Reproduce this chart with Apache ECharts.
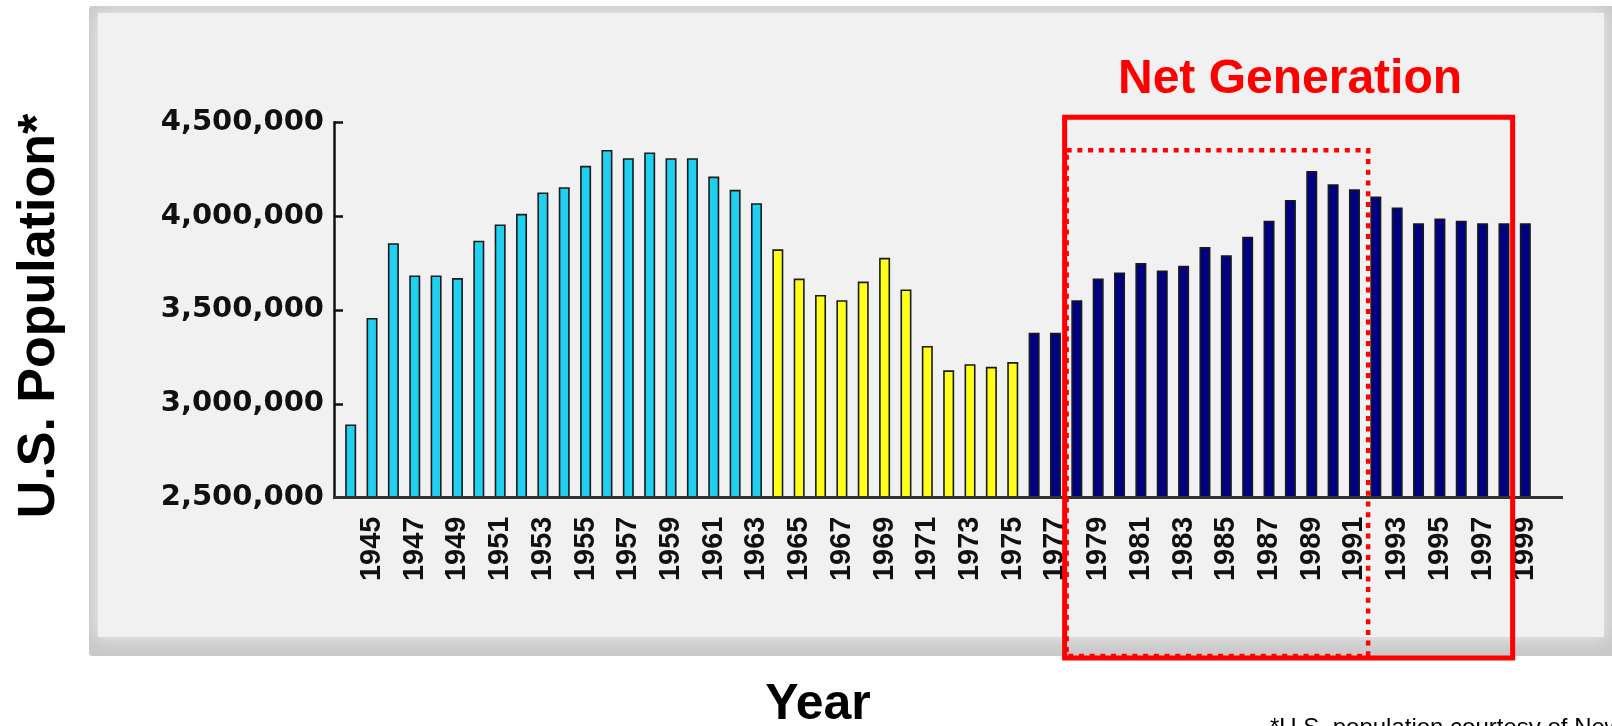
<!DOCTYPE html>
<html><head><meta charset="utf-8">
<script src="https://cdn.jsdelivr.net/npm/echarts/dist/echarts.min.js"></script>
<style>html,body{margin:0;padding:0;background:#fff;overflow:hidden}#c{width:1612px;height:726px}</style>
</head><body><div id="c"></div>
<script>
const years = ['1944','1945','1946','1947','1948','1949','1950','1951','1952','1953','1954','1955','1956','1957','1958','1959','1960','1961','1962','1963',
  '1964','1965','1966','1967','1968','1969','1970','1971','1972','1973','1974','1975',
  '1976','1977','1978','1979','1980','1981','1982','1983','1984','1985','1986','1987','1988','1989','1990','1991','1992','1993','1994','1995','1996','1997','1998','1999'];
// births per year
const boomerBirths = [2890000,3457000,3856000,3684000,3684000,3670000,3869000,3956000,4012000,4126000,4154000,4268000,4353000,4309000,4339000,4309000,4309000,4211000,4140000,4069000];
const genXBirths = [3823000,3667000,3580000,3552000,3651000,3778000,3609000,3308000,3178000,3211000,3197000,3222000];
const netGenBirths = [3378000,3378000,3552000,3667000,3700000,3750000,3710000,3735000,3835000,3792000,3890000,3976000,4086000,4241000,4170000,4143000,4104000,4046000,3962000,3988000,3976000,3962000,3962000,3962000];
const yTicks = [2500000,3000000,3500000,4000000,4500000];

const groupColors = ['#20d0f0','#ffff1a','#000080'];
const barData = [];
[boomerBirths, genXBirths, netGenBirths].forEach((arr, g) => {
  arr.forEach(v => barData.push({value: v, itemStyle: {color: groupColors[g]}}));
});

const chart = echarts.init(document.getElementById('c'), null, {renderer: 'canvas'});
const option = {
  animation: false,
  backgroundColor: '#ffffff',
  grid: {left: 340, top: 122.3, width: 1196, height: 375.3, outerBoundsMode: 'none', containLabel: false},
  xAxis: {
    type: 'category', data: years, boundaryGap: true,
    axisLine: {show: false}, axisTick: {show: false}, splitLine: {show: false},
    axisLabel: {
      rotate: 90, margin: 19, interval: (i) => i % 2 === 1, hideOverlap: false,
      fontFamily: 'Liberation Sans', fontWeight: 'bold', fontSize: 29, color: '#111'
    }
  },
  yAxis: {
    type: 'value', min: yTicks[0], max: yTicks[yTicks.length - 1], interval: 500000, offset: 6,
    splitLine: {show: false},
    axisLine: {show: true, lineStyle: {color: '#111', width: 2.5}},
    axisTick: {show: true, inside: true, length: 9, lineStyle: {color: '#111', width: 2.5}},
    axisLabel: {
      margin: 10, fontFamily: 'DejaVu Sans', fontWeight: 'bold', fontSize: 29, color: '#111',
      formatter: v => v.toLocaleString('en-US')
    }
  },
  series: [{
    type: 'bar', data: barData, barWidth: 11, z: 5,
    itemStyle: {borderColor: '#1a1a1a', borderWidth: 1.6}
  }]
};
chart.setOption(option);

function px(cat) { return chart.convertToPixel({xAxisIndex: 0}, cat); }
function py(v) { return chart.convertToPixel({yAxisIndex: 0}, v); }
const yTop = py(yTicks[yTicks.length - 1]);
const yBase = py(yTicks[0]);
const solidLeft = (px('1977') + px('1978')) / 2 - 1.5;
const solidRight = (px('1998') + px('1999')) / 2 - 2;
const dotRight = (px('1991') + px('1992')) / 2 + 3;

chart.setOption({
  graphic: [
    {type: 'rect', z: -20, silent: true, shape: {x: 89, y: 6, width: 1535, height: 650, r: 3}, style: {fill: '#c9c9c9'}},
    {type: 'rect', z: -19, silent: true, shape: {x: 98, y: 13, width: 1506, height: 624}, style: {fill: '#f1f1f1', shadowBlur: 16, shadowColor: '#f1f1f1'}},
    {type: 'line', z: 50, silent: true, shape: {x1: 333, y1: yBase, x2: 1563, y2: yBase}, style: {stroke: '#333', lineWidth: 3}},
    {type: 'rect', z: 60, silent: true, shape: {x: solidLeft, y: yTop - 5, width: solidRight - solidLeft, height: 658 - (yTop - 5)}, style: {fill: 'none', stroke: '#ff0000', lineWidth: 5}},
    {type: 'rect', z: 61, silent: true, shape: {x: solidLeft + 2, y: yTop + 28, width: dotRight - solidLeft - 2, height: 656 - (yTop + 28)}, style: {fill: 'none', stroke: '#ff0000', lineWidth: 4.5, lineDash: [5, 5.7]}},
    {type: 'text', z: 70, silent: true, x: 1290, y: 80, style: {text: 'Net Generation', fill: '#ff0000', font: 'bold 48px "Liberation Sans"', textAlign: 'center', textVerticalAlign: 'middle'}},
    {type: 'text', z: 70, silent: true, x: 40, y: 316, rotation: Math.PI / 2, style: {text: 'U.S. Population*', fill: '#000', font: 'bold 52px "Liberation Sans"', textAlign: 'center', textVerticalAlign: 'middle'}},
    {type: 'text', z: 70, silent: true, x: 818, y: 705, style: {text: 'Year', fill: '#000', font: 'bold 50px "Liberation Sans"', textAlign: 'center', textVerticalAlign: 'middle'}},
    {type: 'text', z: 70, silent: true, x: 1270, y: 728, style: {text: '*U.S. population courtesy of New Strategist', fill: '#000', font: '24px "Liberation Sans"', textAlign: 'left', textVerticalAlign: 'middle'}}
  ]
});
</script></body></html>
